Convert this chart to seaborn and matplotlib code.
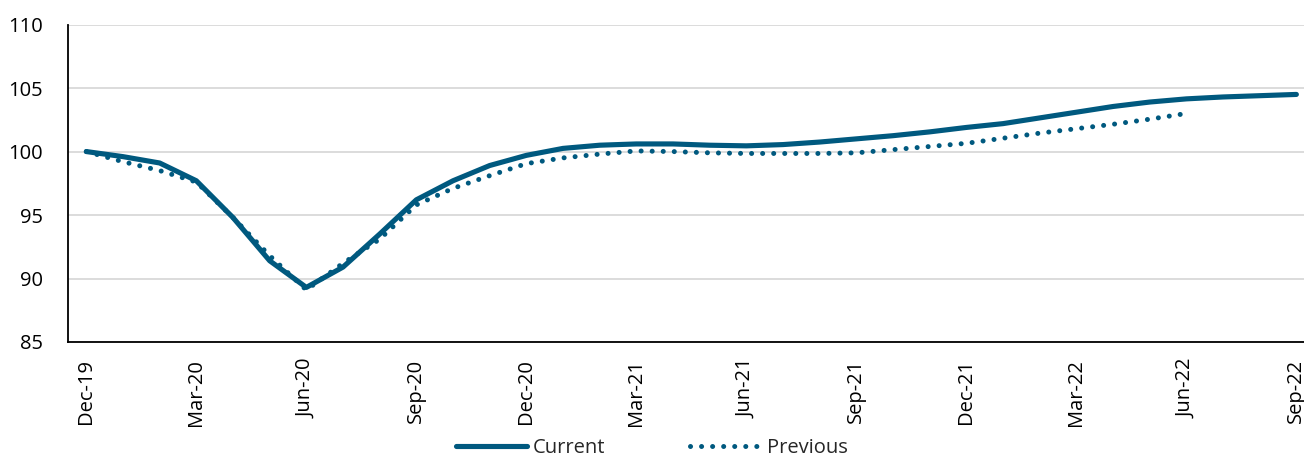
import numpy as np
import pandas as pd
import matplotlib
matplotlib.use("Agg")
import matplotlib.pyplot as plt
import seaborn as sns

months = ["Dec-19", "Jan-20", "Feb-20", "Mar-20", "Apr-20", "May-20", "Jun-20",
          "Jul-20", "Aug-20", "Sep-20", "Oct-20", "Nov-20", "Dec-20", "Jan-21",
          "Feb-21", "Mar-21", "Apr-21", "May-21", "Jun-21", "Jul-21", "Aug-21",
          "Sep-21", "Oct-21", "Nov-21", "Dec-21", "Jan-22", "Feb-22", "Mar-22",
          "Apr-22", "May-22", "Jun-22", "Jul-22", "Aug-22", "Sep-22"]

current = [100.0, 99.6, 99.1, 97.7, 94.8, 91.4, 89.3, 90.9, 93.5, 96.2, 97.7,
           98.9, 99.7, 100.25, 100.5, 100.6, 100.6, 100.5, 100.45, 100.55,
           100.75, 101.0, 101.25, 101.55, 101.9, 102.2, 102.65, 103.1, 103.55,
           103.9, 104.15, 104.3, 104.4, 104.5]

previous = [100.0, 99.2, 98.5, 97.6, 94.8, 91.8, 89.1, 91.2, 93.1, 95.8, 97.1,
            98.1, 99.05, 99.5, 99.8, 100.05, 100.0, 99.9, 99.85, 99.85, 99.85,
            99.9, 100.15, 100.4, 100.65, 101.05, 101.45, 101.8, 102.15, 102.55,
            103.0]

yticks = [85, 90, 95, 100, 105, 110]
label_every = 3

color = "#00597F"

sns.set_style("white")
plt.rcParams["font.family"] = ["Open Sans", "DejaVu Sans"]

fig = plt.figure(figsize=(13.04, 4.59), dpi=100)
ax = fig.add_axes([68 / 1304, 117 / 459, (1314.7 - 68) / 1304, (342 - 24.6) / 459])

df_cur = pd.DataFrame({"x": np.arange(len(current)), "y": current})
df_prev = pd.DataFrame({"x": np.arange(len(previous)), "y": previous})

sns.lineplot(data=df_cur, x="x", y="y", ax=ax, color=color, linewidth=3.7,
             solid_capstyle="round", solid_joinstyle="round", label="Current", zorder=3)
sns.lineplot(data=df_prev, x="x", y="y", ax=ax, color=color, linewidth=3.6,
             linestyle=(0, (0.01, 2.2)), dash_capstyle="round",
             label="Previous", zorder=4)

ax.set_xlim(-0.5, len(months) - 0.5)
ax.set_ylim(85, 110)
ax.set_yticks(yticks)
ax.set_yticklabels([str(t) for t in yticks], fontsize=14.5)
ax.yaxis.grid(True, color="#d9d9d9", linewidth=1.3)
ax.set_axisbelow(True)

major = np.arange(0, len(months), label_every)
ax.set_xticks(major)
ax.set_xticklabels([months[i] for i in major], rotation=90, fontsize=14.5)
ax.set_xticks(major - 0.5, minor=True)
ax.tick_params(axis="x", which="major", length=0, pad=12)
ax.tick_params(axis="x", which="minor", length=7, width=1.2, color="black", direction="out")
ax.tick_params(axis="y", which="major", length=8, width=1.2, color="black",
               direction="out", pad=10)
ax.tick_params(colors="black", which="both")

for s in ["top", "right"]:
    ax.spines[s].set_visible(False)
for s in ["left", "bottom"]:
    ax.spines[s].set_color("black")
    ax.spines[s].set_linewidth(1.3)

ax.set_xlabel("")
ax.set_ylabel("")

handles, labels = ax.get_legend_handles_labels()
ax.get_legend().remove()
fig.legend(handles, labels, loc="center", bbox_to_anchor=(0.5, 1 - 448 / 459),
           ncol=2, frameon=False, fontsize=14.5, handlelength=3.5,
           handletextpad=0.3, columnspacing=4.2)

fig.savefig("out.png", dpi=100)
